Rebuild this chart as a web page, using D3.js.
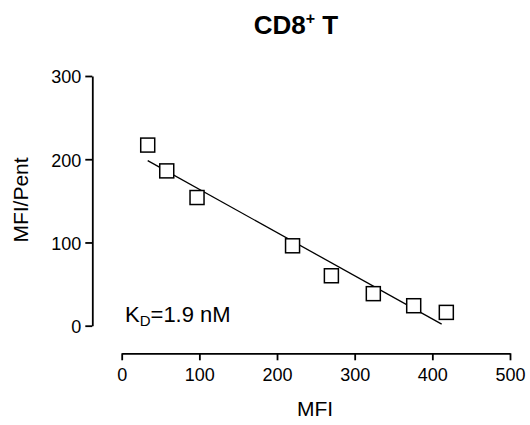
<!DOCTYPE html>
<html>
<head>
<meta charset="utf-8">
<script src="https://cdn.jsdelivr.net/npm/d3@7"></script>
<style>
  body { margin: 0; background: #fff; }
  text { font-family: "Liberation Sans", Arial, sans-serif; fill: #000; }
</style>
</head>
<body>
<script>
// values
var mfi   = [33.5, 58, 97, 220, 270, 324, 376, 418];
var ratio = [217, 186, 154, 96, 60, 38.5, 24, 16];
// Scatchard fit line
var fitSlope = -0.519;
var fitIntercept = 215.7;
var fitRange = [33.5, 412];
var xTicks = [0, 100, 200, 300, 400, 500];
var yTicks = [0, 100, 200, 300];

var svg = d3.select("body").append("svg")
    .attr("width", 530)
    .attr("height", 425);

var x = d3.scaleLinear().domain([0, 500]).range([121.7, 510]);
var y = d3.scaleLinear().domain([0, 300]).range([325.7, 76]);

var xAxis = svg.append("g")
    .attr("transform", "translate(0,353.3)")
    .call(d3.axisBottom(x).tickValues(xTicks).tickSize(7).tickSizeOuter(0).tickPadding(5));

var yAxis = svg.append("g")
    .attr("transform", "translate(92.3,0)")
    .call(d3.axisLeft(y).tickValues(yTicks).tickSize(7).tickSizeOuter(0).tickPadding(4));

[xAxis, yAxis].forEach(function(g) {
  g.selectAll("path, line").attr("stroke", "#000").attr("stroke-width", 1.8);
  g.selectAll("text").style("font-size", "18px").attr("fill", "#000");
});
xAxis.selectAll("text").attr("dy", "0.88em");
yAxis.selectAll("text").attr("dy", "0.38em");

// fit line
var line = d3.line()
    .x(function(d) { return x(d); })
    .y(function(d) { return y(fitIntercept + fitSlope * d); });
svg.append("path")
    .datum(fitRange)
    .attr("d", line)
    .attr("fill", "none")
    .attr("stroke", "#000")
    .attr("stroke-width", 1.3);

// squares
var s = 14;
svg.append("g").selectAll("rect")
    .data(mfi)
  .enter().append("rect")
    .attr("x", function(d) { return x(d) - s / 2; })
    .attr("y", function(d, i) { return y(ratio[i]) - s / 2; })
    .attr("width", s)
    .attr("height", s)
    .attr("fill", "#fff")
    .attr("stroke", "#000")
    .attr("stroke-width", 1.5);

// title
var title = svg.append("text")
    .attr("x", 296)
    .attr("y", 34)
    .attr("text-anchor", "middle")
    .style("font-size", "26px")
    .style("font-weight", "bold");
title.append("tspan").text("CD8");
title.append("tspan").text("+").style("font-size", "16px").attr("dy", "-10");
title.append("tspan").text(" T").attr("dy", "10");

// axis titles
svg.append("text")
    .attr("x", 315)
    .attr("y", 416)
    .attr("text-anchor", "middle")
    .style("font-size", "21px")
    .text("MFI");

svg.append("text")
    .attr("transform", "translate(27.5,200) rotate(-90)")
    .attr("text-anchor", "middle")
    .style("font-size", "21px")
    .text("MFI/Pent");

// K_D annotation
var kd = svg.append("text")
    .attr("x", 125)
    .attr("y", 322)
    .style("font-size", "22px");
kd.append("tspan").text("K");
kd.append("tspan").text("D").style("font-size", "15px").attr("dy", "4");
kd.append("tspan").text("=1.9 nM").attr("dy", "-4");
</script>
</body>
</html>
